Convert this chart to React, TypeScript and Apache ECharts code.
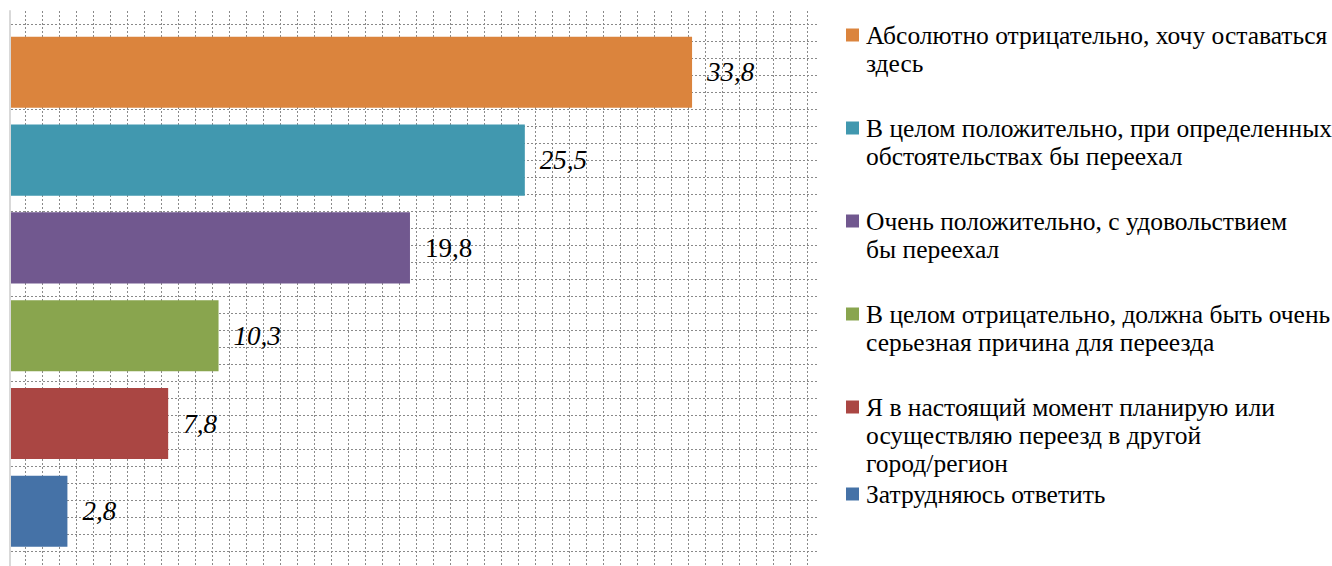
import React, { useEffect, useRef } from "react";
import * as echarts from "echarts";

const categories = [
  "Абсолютно отрицательно, хочу оставаться здесь",
  "В целом положительно, при определенных обстоятельствах бы переехал",
  "Очень положительно, с удовольствием бы переехал",
  "В целом отрицательно, должна быть очень серьезная причина для переезда",
  "Я в настоящий момент планирую или осуществляю переезд в другой город/регион",
  "Затрудняюсь ответить",
];

const legendLines = [
  ["Абсолютно отрицательно, хочу оставаться", "здесь"],
  ["В целом положительно, при определенных", "обстоятельствах бы переехал"],
  ["Очень положительно, с удовольствием", "бы переехал"],
  ["В целом отрицательно, должна быть очень", "серьезная причина для переезда"],
  ["Я в настоящий момент планирую или", "осуществляю переезд в другой", "город/регион"],
  ["Затрудняюсь ответить"],
];

const values = [33.8, 25.5, 19.8, 10.3, 7.8, 2.8];

const colors = ["#DB843D", "#4198AF", "#71588F", "#89A54E", "#AA4643", "#4572A7"];

// layout (not data)
const legendCenters = [35, 128, 221, 314, 407, 494];
const LEGEND_LH = 28.3;
const FONT = "Liberation Serif";
const GRID_DOT = { color: "#8a8a8a", type: [2, 2] as number[], width: 1 };

export default function App() {
  const ref = useRef<HTMLDivElement>(null);

  useEffect(() => {
    if (!ref.current) return;
    const chart = echarts.init(ref.current, undefined, { renderer: "svg" });

    const series = values.map((v, i) => ({
      type: "bar",
      name: categories[i],
      xAxisIndex: 0,
      yAxisIndex: 0,
      stack: "total",
      barCategoryGap: "19%",
      data: categories.map((_, j) => (j === i ? v : "-")),
      itemStyle: { color: colors[i] },
      label: {
        show: true,
        position: "right",
        distance: 15,
        formatter: (p: any) => String(p.value).replace(".", ","),
        fontFamily: FONT,
        fontSize: 27,
        fontStyle: i === 2 ? "normal" : "italic",
        color: "#000",
      },
      z: 3,
    }));

    const legendTitles = legendLines.map((lines, i) => ({
      text: lines.join("\n"),
      left: 866,
      top: legendCenters[i] - LEGEND_LH / 2,
      padding: 0,
      itemGap: 0,
      textStyle: {
        fontFamily: FONT,
        fontSize: 25.5,
        fontWeight: "normal",
        color: "#000",
        lineHeight: LEGEND_LH,
      },
    }));

    const legendSquares = legendLines.map((_, i) => ({
      type: "rect",
      shape: { x: 846, y: legendCenters[i] - 6.5, width: 13, height: 13 },
      style: { fill: colors[i] },
    }));

    chart.setOption({
      animation: false,
      backgroundColor: "#ffffff",
      title: legendTitles,
      grid: [
        { left: 11, top: 28.4, width: 806, height: 526.8 },
        { left: 25, top: 11, width: 782, height: 555 },
        { left: 11, top: 24.3, width: 806, height: 527 },
        { left: 10, top: 11, width: 1, height: 555 },
      ],
      xAxis: [
        { gridIndex: 0, type: "value", min: 0, max: 40, show: false },
        {
          gridIndex: 1,
          type: "value",
          min: 0,
          max: 46,
          interval: 1,
          axisLine: { show: false },
          axisTick: { show: false },
          axisLabel: { show: false },
          splitLine: { show: true, lineStyle: GRID_DOT },
        },
        { gridIndex: 2, type: "value", min: 0, max: 1, show: false },
        { gridIndex: 3, type: "value", min: 0, max: 1, show: false },
      ],
      yAxis: [
        { gridIndex: 0, type: "category", data: categories, inverse: true, show: false },
        { gridIndex: 1, type: "value", min: 0, max: 1, show: false },
        {
          gridIndex: 2,
          type: "value",
          min: 0,
          max: 31,
          interval: 1,
          axisLine: { show: false },
          axisTick: { show: false },
          axisLabel: { show: false },
          splitLine: { show: true, lineStyle: GRID_DOT },
        },
        {
          gridIndex: 3,
          type: "value",
          min: 0,
          max: 1,
          axisLine: { show: true, onZero: false, lineStyle: { color: "#d9d9d9", width: 2 } },
          axisTick: { show: false },
          axisLabel: { show: false },
          splitLine: { show: false },
        },
      ],
      series,
      graphic: legendSquares,
    });

    return () => chart.dispose();
  }, []);

  return (
    <div
      ref={ref}
      style={{ position: "absolute", left: 0, top: 0, width: 1332, height: 566 }}
    />
  );
}
